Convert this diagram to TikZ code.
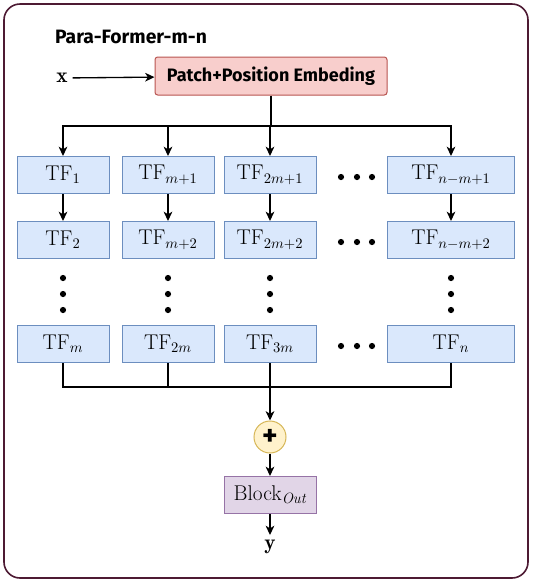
\documentclass[tikz,border=0pt]{standalone}
\usepackage{amsmath,amssymb}
\usepackage{fontspec}
\newfontfamily\comicfont{Fira Sans}
\usetikzlibrary{arrows.meta,shapes,positioning}

\definecolor{frameline}{HTML}{4D1A33}
\definecolor{embedfill}{HTML}{F8CECC}
\definecolor{embedline}{HTML}{B85450}
\definecolor{tffill}{HTML}{DAE8FC}
\definecolor{tfline}{HTML}{6C8EBF}
\definecolor{sumfill}{HTML}{FFF2CC}
\definecolor{sumline}{HTML}{D6B656}
\definecolor{blockfill}{HTML}{E1D5E7}
\definecolor{blockline}{HTML}{9673A6}

\begin{document}
\begin{tikzpicture}[x=0.75pt,y=-0.75pt,>={Stealth[length=7pt,width=6.5pt,inset=2pt]},line width=1pt,font=\fontsize{16}{13}\selectfont]

  \tikzstyle{tf}=[rectangle,draw=tfline,fill=tffill,line width=0.75pt,minimum width=92*0.75pt,minimum height=37*0.75pt,inner sep=0pt]
  \tikzstyle{embed}=[rectangle,rounded corners=2pt,draw=embedline,fill=embedfill,line width=0.75pt,minimum width=232*0.75pt,minimum height=38*0.75pt,font=\comicfont\bfseries\fontsize{13.5}{15}\selectfont]
  \tikzstyle{sumnode}=[circle,draw=sumline,fill=sumfill,line width=0.75pt,minimum size=32*0.75pt,inner sep=0pt,font=\comicfont\bfseries\fontsize{22}{22}\selectfont]
  \tikzstyle{blockout}=[rectangle,draw=blockline,fill=blockfill,line width=0.75pt,minimum width=92*0.75pt,minimum height=37*0.75pt,inner sep=0pt]

  \useasboundingbox (0,0) rectangle (533,583);
  \draw[frameline,line width=1.2pt,rounded corners=12pt] (4,4) rectangle (528,578);

  \node[font=\comicfont\bfseries\fontsize{14.5}{16}\selectfont] (title) at (131,37) {Para-Former-m-n};
  \node (x) at (62,78) {$\mathbf{x}$};
  \node [embed] (embed) at (271,76) {Patch+Position Embeding};

  % first row
  \node [tf] (tf1) at (63,175) {TF$_1$};
  \node [tf] (tfm1) at (168,175) {TF$_{m+1}$};
  \node [tf] (tf2m1) at (270,175) {TF$_{2m+1}$};
  \node [tf,minimum width=127*0.75pt] (tfnm1) at (451,175) {TF$_{n-m+1}$};

  % second row
  \node [tf] (tf2) at (63,240) {TF$_2$};
  \node [tf] (tfm2) at (168,240) {TF$_{m+2}$};
  \node [tf] (tf2m2) at (270,240) {TF$_{2m+2}$};
  \node [tf,minimum width=127*0.75pt] (tfnm2) at (451,240) {TF$_{n-m+2}$};

  % last row
  \node [tf] (tfm) at (63,344) {TF$_m$};
  \node [tf] (tf2m) at (168,344) {TF$_{2m}$};
  \node [tf] (tf3m) at (270,344) {TF$_{3m}$};
  \node [tf,minimum width=127*0.75pt] (tfn) at (451,344) {TF$_n$};

  % dots
  \foreach \yy in {177,242,346}
    \foreach \xx in {341,357,372}
      \fill (\xx,\yy) circle (3.1*0.75pt);
  \foreach \xx in {63,168,270,451}
    \foreach \yy in {278,294,310}
      \fill (\xx,\yy) circle (3.1*0.75pt);

  \node [sumnode] (sum) at (270,437) {+};
  \node [blockout] (block) at (270,495) {Block$_{\mathit{Out}}$};
  \node (y) at (270,547) {$\mathbf{y}$};

  \coordinate (split) at (271,126);
  \coordinate (join) at (270,387);

  \draw [->] (x) -- (embed);
  \draw (embed.south) -- (split);
  \foreach \t in {tf1,tfm1,tf2m1,tfnm1}
    \draw [->] (split) -| (\t.north);
  \draw [->] (tf1) -- (tf2);
  \draw [->] (tfm1) -- (tfm2);
  \draw [->] (tf2m1) -- (tf2m2);
  \draw [->] (tfnm1) -- (tfnm2);
  \foreach \t in {tfm,tf2m,tfn}
    \draw (\t.south) |- (join);
  \draw [->] (tf3m) -- (sum);
  \draw [->] (sum) -- (block);
  \draw [->] (block) -- (y);
\end{tikzpicture}
\end{document}
